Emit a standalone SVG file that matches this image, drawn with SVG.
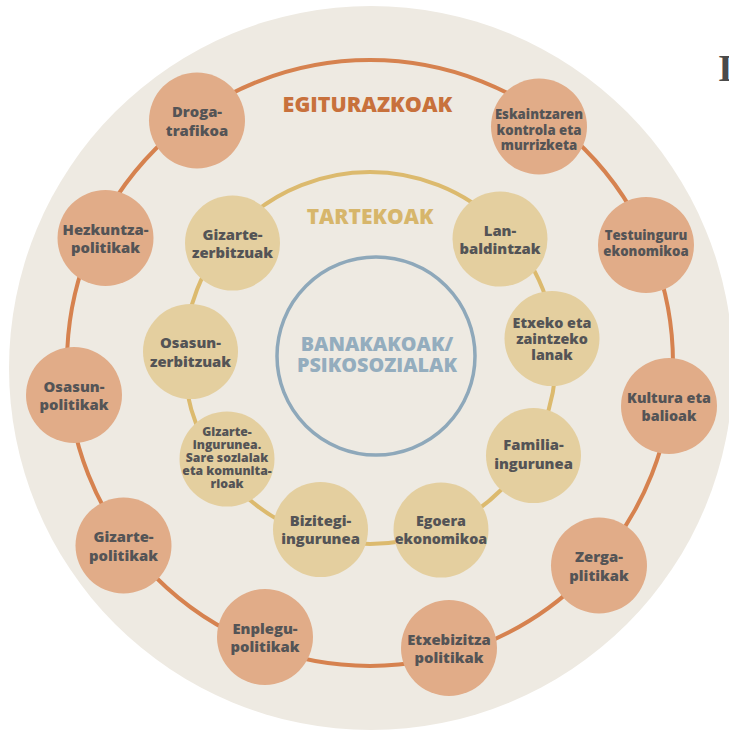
<svg xmlns="http://www.w3.org/2000/svg" width="729" height="732" viewBox="0 0 729 732">
<style>
.bg{fill:#EEEAE2}
.ring-o{fill:none;stroke:#D6824F;stroke-width:4}
.ring-t{fill:none;stroke:#DCBA6E;stroke-width:4}
.ring-b{fill:none;stroke:#8EA8BA;stroke-width:3.5}
.no{fill:#E1AC88}
.nt{fill:#E4CF9F}
text{font-family:"Open Sans","Noto Sans","DejaVu Sans",sans-serif;font-weight:800;text-anchor:middle;fill:#545456}
.f15{font-size:14.8px}
.f14{font-size:14.3px}
.f13{font-size:13.2px}
.f12{font-size:12.2px}
.lo{font-size:21.5px;fill:#C8713C}
.lt{font-size:21px;fill:#D7B66B}
.lb{font-size:19.8px;fill:#94ADBE}
</style>
<circle class="bg" cx="371" cy="368" r="362"/>
<text x="718" y="81" style="font-family:'Liberation Serif',serif;font-size:38px;text-anchor:start;fill:#4A4A4A">I</text>
<g id="connectors">
<circle class="ring-o" cx="370" cy="363" r="303"/>
<circle class="ring-t" cx="370" cy="358" r="186"/>
</g>
<g id="core">
<circle class="ring-b" cx="376" cy="356" r="99"/>
<text class="lb" x="377" y="351">BANAKAKOAK/</text>
<text class="lb" x="377" y="372">PSIKOSOZIALAK</text>
</g>
<g id="labels">
<text class="lo" x="367.5" y="112">EGITURAZKOAK</text>
<text class="lt" x="370" y="224">TARTEKOAK</text>
</g>
<g id="n-droga"><circle class="no" cx="197" cy="120.5" r="48"/><text class="f15" x="197" y="117">Droga-</text><text class="f15" x="197" y="135.5">trafikoa</text></g>
<g id="n-eskaintzaren"><circle class="no" cx="539" cy="126.5" r="48"/><text class="f13" x="539" y="119">Eskaintzaren</text><text class="f13" x="539" y="134.5">kontrola eta</text><text class="f13" x="539" y="150">murrizketa</text></g>
<g id="n-testuinguru"><circle class="no" cx="646" cy="245" r="48"/><text class="f13" x="646" y="240">Testuinguru</text><text class="f13" x="646" y="256">ekonomikoa</text></g>
<g id="n-kultura"><circle class="no" cx="669" cy="406" r="48"/><text class="f14" x="669" y="403">Kultura eta</text><text class="f14" x="669" y="421">balioak</text></g>
<g id="n-zerga"><circle class="no" cx="599" cy="565.5" r="48"/><text class="f15" x="599" y="562">Zerga-</text><text class="f15" x="599" y="580.5">plitikak</text></g>
<g id="n-etxebizitza"><circle class="no" cx="449" cy="648" r="48"/><text class="f15" x="449" y="644.5">Etxebizitza</text><text class="f15" x="449" y="663">politikak</text></g>
<g id="n-enplegu"><circle class="no" cx="265" cy="637" r="48"/><text class="f15" x="265" y="633.5">Enplegu-</text><text class="f15" x="265" y="652">politikak</text></g>
<g id="n-gizarte-pol"><circle class="no" cx="123.5" cy="545.5" r="48"/><text class="f15" x="123.5" y="542">Gizarte-</text><text class="f15" x="123.5" y="560.5">politikak</text></g>
<g id="n-osasun-pol"><circle class="no" cx="74" cy="395" r="48"/><text class="f15" x="74" y="391.5">Osasun-</text><text class="f15" x="74" y="410">politikak</text></g>
<g id="n-hezkuntza"><circle class="no" cx="105.5" cy="238" r="48"/><text class="f15" x="105.5" y="234.5">Hezkuntza-</text><text class="f15" x="105.5" y="253">politikak</text></g>
<g id="n-gizarte-zerb"><circle class="nt" cx="232.5" cy="243" r="47.5"/><text class="f15" x="232.5" y="239.5">Gizarte-</text><text class="f15" x="232.5" y="258">zerbitzuak</text></g>
<g id="n-lan"><circle class="nt" cx="500" cy="239" r="47.5"/><text class="f15" x="500" y="235.5">Lan-</text><text class="f15" x="500" y="254">baldintzak</text></g>
<g id="n-etxeko"><circle class="nt" cx="552" cy="338.5" r="47.5"/><text class="f14" x="552" y="327.5">Etxeko eta</text><text class="f14" x="552" y="344">zaintzeko</text><text class="f14" x="552" y="360">lanak</text></g>
<g id="n-familia"><circle class="nt" cx="533.5" cy="455.5" r="47.5"/><text class="f15" x="533.5" y="450">Familia-</text><text class="f15" x="533.5" y="469">ingurunea</text></g>
<g id="n-egoera"><circle class="nt" cx="441" cy="530" r="47.5"/><text class="f14" x="441" y="526">Egoera</text><text class="f14" x="441" y="543.5">ekonomikoa</text></g>
<g id="n-bizitegi"><circle class="nt" cx="320.5" cy="529.5" r="47.5"/><text class="f15" x="320.5" y="526">Bizitegi-</text><text class="f15" x="320.5" y="544">ingurunea</text></g>
<g id="n-gizarte-ing"><circle class="nt" cx="227" cy="459" r="47.5"/><text class="f12" x="227" y="436">Gizarte-</text><text class="f12" x="227" y="449">ingurunea.</text><text class="f12" x="227" y="462">Sare sozialak</text><text class="f12" x="227" y="475">eta komunita-</text><text class="f12" x="227" y="488">rioak</text></g>
<g id="n-osasun-zerb"><circle class="nt" cx="190.5" cy="351.5" r="47.5"/><text class="f15" x="190.5" y="348">Osasun-</text><text class="f15" x="190.5" y="366.5">zerbitzuak</text></g>
</svg>
